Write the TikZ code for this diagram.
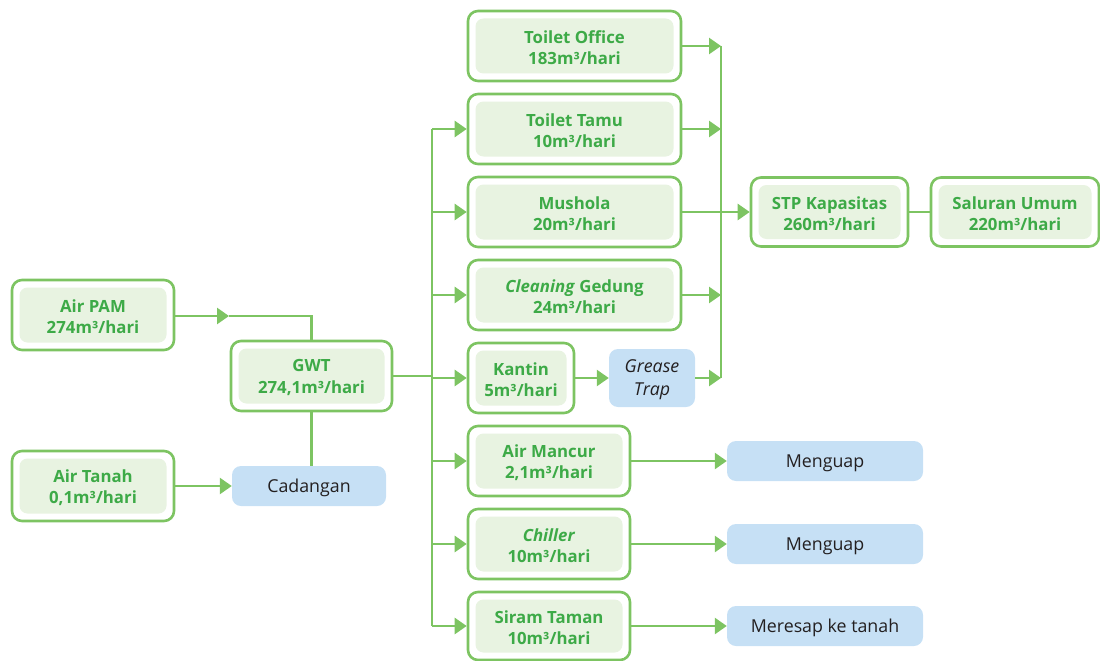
\documentclass[tikz,border=0pt]{standalone}
\usepackage{fontspec}
\setmainfont{Open Sans}
\usetikzlibrary{arrows.meta}
\definecolor{gline}{HTML}{7DC462}
\definecolor{gtext}{HTML}{3DAA47}
\definecolor{gfill}{HTML}{E8F3E1}
\definecolor{bfill}{HTML}{C6E0F5}
\definecolor{dtext}{HTML}{231F20}
% green two-layer box: name, centre x, centre y, width, height, text
\newcommand\gbox[6]{%
  \node[outerbox, minimum width=#4pt, minimum height=#5pt] (#1) at (#2,#3) {};
  \node[innerbox, minimum width=#4pt-15pt, minimum height=#5pt-15pt] at (#1.center) {};
  \node[gtextstyle] at ([yshift=-1.5pt]#1.center) {#6};
}
% blue note box: name, centre x, centre y, width, height, text
\newcommand\bbox[6]{%
  \node[bluebox, minimum width=#4pt, minimum height=#5pt] (#1) at (#2,#3) {};
  \node[btextstyle] at ([yshift=-2pt]#1.center) {#6};
}
\begin{document}
\begin{tikzpicture}[x=1pt,y=-1pt,
  outerbox/.style={draw=gline, line width=2.6pt, rounded corners=10pt, fill=white, inner sep=0pt},
  innerbox/.style={fill=gfill, rounded corners=8pt, inner sep=0pt},
  gtextstyle/.style={inner sep=0pt, align=center, text=gtext,
    font=\fontsize{16.8}{21.5}\selectfont\bfseries},
  bluebox/.style={fill=bfill, rounded corners=9pt, inner sep=0pt},
  btextstyle/.style={inner sep=0pt, align=center, text=dtext,
    font=\fontsize{17.8}{23}\selectfont},
  conn/.style={draw=gline, line width=2.6pt},
  arr/.style={conn, -{Triangle[length=12pt,width=16pt]}}]
\useasboundingbox (0,0) rectangle (1100,661);

% sources and ground water tank
\gbox{pam}{93}{315}{162}{70}{Air PAM\\274m³/hari}
\gbox{tanah}{93}{486}{162}{70}{Air Tanah\\0,1m³/hari}
\gbox{gwt}{311.5}{376}{161}{70}{GWT\\274,1m³/hari}
\bbox{cad}{309}{486}{154}{40}{Cadangan}

% consumers
\gbox{office}{574.5}{46}{213}{70}{Toilet Office\\183m³/hari}
\gbox{tamu}{574.5}{129}{213}{70}{Toilet Tamu\\10m³/hari}
\gbox{mushola}{574.5}{212}{213}{70}{Mushola\\20m³/hari}
\gbox{clean}{574.5}{295}{213}{70}{\textit{Cleaning} Gedung\\24m³/hari}
\gbox{kantin}{521}{378}{106}{70}{Kantin\\5m³/hari}
\bbox{grease}{652}{378}{86}{58}{\itshape Grease\\\itshape Trap}
\gbox{mancur}{549}{461}{162}{70}{Air Mancur\\2,1m³/hari}
\gbox{chiller}{549}{544}{162}{70}{\textit{Chiller}\\10m³/hari}
\gbox{siram}{549}{626}{162}{68}{Siram Taman\\10m³/hari}

% treatment and discharge
\gbox{stp}{829.5}{212}{157}{69}{STP Kapasitas\\260m³/hari}
\gbox{saluran}{1015}{212}{168}{69}{Saluran Umum\\220m³/hari}
\bbox{uap1}{825}{461}{196}{40}{Menguap}
\bbox{uap2}{825}{544}{196}{40}{Menguap}
\bbox{resap}{825}{626}{196}{40}{Meresap ke tanah}

% supply side connectors
\coordinate (pamtip) at (229,316);
\draw[arr] (pam.east |- pamtip) -- (pamtip);
\draw[conn] (pamtip) -| (gwt.north);
\draw[conn] (gwt.south) -- (gwt.south |- cad.north);
\draw[arr] (tanah.east) -- (cad.west);

% distribution bus
\coordinate (btop) at (432,129);
\coordinate (bbot) at (432,626);
\draw[conn] (gwt.east) -- (gwt.east -| btop);
\draw[conn] (btop) -- (bbot);
\foreach \n in {tamu,mushola,clean,kantin,mancur,chiller,siram}
  \draw[arr] (btop |- \n.west) -- (\n.west);

% collection bus to STP
\coordinate (ctop) at (721,46);
\coordinate (cbot) at (721,378);
\draw[conn] (ctop) -- (cbot);
\foreach \n in {office,tamu,clean}
  \draw[arr] (\n.east) -- (\n.east -| ctop);
\draw[arr] (grease.east) -- (grease.east -| ctop);
\draw[arr] (kantin.east) -- (grease.west);
\draw[arr] (mushola.east) -- (stp.west);
\draw[conn] (stp.east) -- (saluran.west);

% outflows
\draw[arr] (mancur.east) -- (uap1.west);
\draw[arr] (chiller.east) -- (uap2.west);
\draw[arr] (siram.east) -- (resap.west);
\end{tikzpicture}
\end{document}
